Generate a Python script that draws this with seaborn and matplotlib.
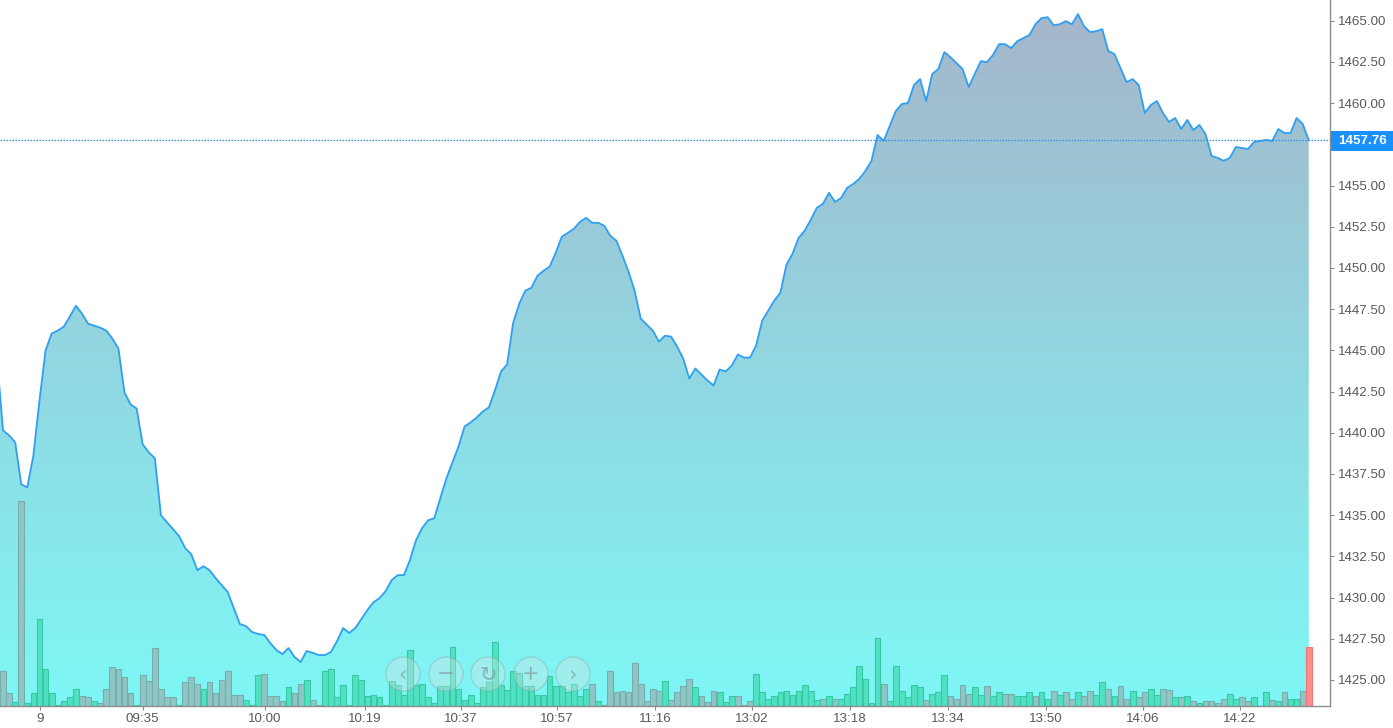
import numpy as np
import pandas as pd
import matplotlib
matplotlib.use("Agg")
import matplotlib.pyplot as plt
import seaborn as sns
from matplotlib.patches import Circle, Rectangle
from matplotlib.transforms import IdentityTransform, blended_transform_factory
from matplotlib.ticker import FormatStrFormatter
from matplotlib.colors import to_rgb

# ---------------- data ----------------
price = [
    1444.50, 1440.14, 1439.84, 1439.42, 1436.87, 1436.69, 1438.63, 1441.96, 1444.99, 1446.02,
    1446.20, 1446.44, 1447.05, 1447.71, 1447.23, 1446.62, 1446.50, 1446.38, 1446.20, 1445.71,
    1445.11, 1442.44, 1441.72, 1441.47, 1439.29, 1438.81, 1438.45, 1434.99, 1434.57, 1434.15,
    1433.72, 1433.00, 1432.63, 1431.66, 1431.90, 1431.66, 1431.18, 1430.75, 1430.33, 1429.36,
    1428.39, 1428.27, 1427.91, 1427.79, 1427.73, 1427.24, 1426.82, 1426.57, 1426.94, 1426.39,
    1426.09, 1426.76, 1426.64, 1426.51, 1426.51, 1426.70, 1427.36, 1428.15, 1427.85, 1428.15,
    1428.69, 1429.24, 1429.72, 1429.97, 1430.39, 1431.06, 1431.36, 1431.36, 1432.27, 1433.48,
    1434.21, 1434.69, 1434.81, 1436.02, 1437.23, 1438.20, 1439.17, 1440.38, 1440.63, 1440.93,
    1441.29, 1441.54, 1442.57, 1443.72, 1444.14, 1446.68, 1447.83, 1448.62, 1448.80, 1449.53,
    1449.83, 1450.08, 1450.92, 1451.89, 1452.13, 1452.38, 1452.80, 1453.04, 1452.74, 1452.74,
    1452.56, 1451.95, 1451.65, 1450.74, 1449.77, 1448.62, 1446.93, 1446.56, 1446.20, 1445.53,
    1445.89, 1445.83, 1445.23, 1444.50, 1443.29, 1443.90, 1443.53, 1443.17, 1442.87, 1443.84,
    1443.72, 1444.08, 1444.75, 1444.56, 1444.56, 1445.29, 1446.80, 1447.41, 1448.02, 1448.50,
    1450.20, 1450.86, 1451.83, 1452.26, 1452.92, 1453.65, 1453.89, 1454.56, 1454.01, 1454.25,
    1454.86, 1455.10, 1455.41, 1455.89, 1456.50, 1458.07, 1457.71, 1458.62, 1459.52, 1459.95,
    1460.01, 1461.10, 1461.46, 1460.13, 1461.77, 1462.07, 1463.10, 1462.79, 1462.43, 1462.07,
    1460.98, 1461.77, 1462.55, 1462.49, 1462.92, 1463.58, 1463.58, 1463.34, 1463.76, 1463.95,
    1464.13, 1464.79, 1465.16, 1465.22, 1464.73, 1464.79, 1464.98, 1464.79, 1465.40, 1464.67,
    1464.31, 1464.37, 1464.49, 1463.16, 1462.98, 1462.13, 1461.28, 1461.46, 1461.10, 1459.40,
    1459.89, 1460.13, 1459.40, 1458.86, 1459.10, 1458.43, 1458.98, 1458.37, 1458.68, 1458.13,
    1456.80, 1456.68, 1456.50, 1456.68, 1457.34, 1457.28, 1457.22, 1457.65, 1457.71, 1457.77,
    1457.71, 1458.43, 1458.19, 1458.19, 1459.10, 1458.74, 1457.76,
]

volume = [
    10, 35, 13, 4, 205, 3, 13, 87, 37, 13,
    1, 5, 9, 17, 10, 9, 5, 3, 17, 39,
    37, 29, 13, 1, 31, 25, 58, 17, 9, 9,
    1, 24, 29, 22, 17, 24, 13, 26, 35, 11,
    11, 6, 1, 31, 32, 10, 10, 5, 19, 13,
    22, 26, 6, 1, 35, 37, 9, 21, 1, 31,
    26, 10, 11, 9, 1, 25, 21, 11, 56, 21,
    22, 9, 3, 20, 20, 59, 17, 6, 11, 3,
    19, 24, 64, 21, 16, 35, 33, 20, 20, 11,
    11, 30, 20, 20, 14, 22, 10, 17, 22, 5,
    1, 35, 14, 15, 14, 43, 22, 5, 17, 15,
    25, 6, 14, 20, 27, 19, 10, 4, 15, 14,
    4, 10, 10, 1, 5, 32, 14, 7, 10, 14,
    15, 11, 15, 21, 15, 6, 7, 10, 7, 7,
    12, 19, 40, 27, 3, 68, 22, 5, 40, 15,
    9, 21, 19, 6, 12, 14, 31, 10, 7, 21,
    12, 19, 11, 20, 10, 14, 12, 12, 10, 10,
    14, 10, 14, 7, 15, 11, 14, 7, 14, 10,
    15, 11, 24, 17, 10, 20, 7, 15, 9, 14,
    17, 11, 17, 16, 9, 9, 10, 5, 3, 5,
    5, 3, 7, 12, 7, 9, 5, 9, 0, 14,
    6, 5, 14, 7, 7, 15, 59,
]

# u = up bar (green), d = down bar (grey), r = last bar (red)
dir_code = (
    "ddduduuuuu" "uuuudduddd" "dddudddddd" "uddduddddd" "duuuddddud"
    "dudduuuuuu" "uuuuuuuuuu" "uuuuuuuuuu" "uuuuuuuuuu" "uuuuuuuudu"
    "dddddddddd" "uddddudddu" "uuddduuuuu" "uuuuuududu" "uuuuuuduuu"
    "uuuduuuddd" "duuduudduu" "uduududdud" "duududdudd" "uuddududud"
    "ddduudduuu" "duduudr"
)

tick_pos = [7.1, 24.0, 44.1, 60.6, 76.4, 92.2, 108.4, 124.3, 140.5, 156.6, 172.7, 188.7, 204.7]
tick_labels = ["9", "09:35", "10:00", "10:19", "10:37", "10:57", "11:16",
               "13:02", "13:18", "13:34", "13:50", "14:06", "14:22"]
# 1457.50 is hidden behind the last-price label in the reference
y_ticks = [1425.0, 1427.5, 1430.0, 1432.5, 1435.0, 1437.5, 1440.0, 1442.5,
           1445.0, 1447.5, 1450.0, 1452.5, 1455.0, 1460.0, 1462.5, 1465.0]
last_price = 1457.76
nav_glyphs = ["\u2039", "\u2212", "\u21bb", "+", "\u203a"]

# ---------------- style ----------------
sns.set_style("white")
plt.rcParams["font.family"] = ["Liberation Sans", "DejaVu Sans"]

dir_names = {"u": "up", "d": "down", "r": "last"}
df = pd.DataFrame({
    "idx": np.arange(len(price)),
    "price": price,
    "volume": volume,
    "dir": [dir_names[c] for c in dir_code],
})

W, H = 1393, 728
fig = plt.figure(figsize=(W / 100, H / 100), dpi=100)
fig.patch.set_facecolor("white")
rect = [0, 22 / H, 1330 / W, 706 / H]
ax_fill = fig.add_axes(rect)
vax = fig.add_axes(rect, sharex=ax_fill)
ax = fig.add_axes(rect, sharex=ax_fill, sharey=ax_fill)
ax_fill.set_zorder(1)
vax.set_zorder(2)
ax.set_zorder(3)
vax.patch.set_visible(False)
ax.patch.set_visible(False)

xlo, xhi = 0.5, 219.5
ylo, yhi = 1423.42, 1466.26

# ---------------- gradient area ----------------
top_c = np.array([166, 181, 202]) / 255.0
bot_c = np.array([126, 247, 246]) / 255.0
t = np.linspace(0, 1, 256)[:, None]
grad = (top_c * (1 - t) + bot_c * t)[:, None, :]
poly = ax_fill.fill_between(df["idx"], df["price"], ylo, facecolor="none", edgecolor="none")
im = ax_fill.imshow(grad, extent=[xlo, xhi, ylo, yhi], aspect="auto", origin="upper",
                    interpolation="bilinear", zorder=1)
im.set_clip_path(poly.get_paths()[0], transform=ax_fill.transData)
ax_fill.axis("off")

# ---------------- volume bars ----------------
pal = {"up": "#50e0c2", "down": "#8ec6c6", "last": "#ff8f8f"}
edge = {"up": "#38c8a6", "down": "#78adad", "last": "#ff7070"}
sns.barplot(data=df, x="idx", y="volume", hue="dir", palette=pal, native_scale=True,
            dodge=False, width=0.95, saturation=1, legend=False, errorbar=None, ax=vax)
key_by_rgb = {tuple(np.round(to_rgb(v), 3)): k for k, v in pal.items()}
for p in vax.patches:
    k = key_by_rgb.get(tuple(np.round(p.get_facecolor()[:3], 3)))
    if k is not None:
        p.set_edgecolor(edge[k])
        p.set_linewidth(0.8)
vax.set_ylim(0, 706)
vax.axis("off")

# ---------------- price line ----------------
sns.lineplot(data=df, x="idx", y="price", ax=ax, color="#2f9ff2", linewidth=1.3)
ax.axhline(last_price, color="#2a8ff0", linestyle=(0, (1.2, 1.2)), linewidth=0.9)

ax.set_xlim(xlo, xhi)
ax.set_ylim(ylo, yhi)
ax.set_xlabel("")
ax.set_ylabel("")
ax.set_xticks(tick_pos)
ax.set_xticklabels(tick_labels)
ax.set_yticks(y_ticks)
ax.yaxis.set_major_formatter(FormatStrFormatter("%.2f"))
ax.yaxis.tick_right()
for s in ["top", "left"]:
    ax.spines[s].set_visible(False)
for s in ["right", "bottom"]:
    ax.spines[s].set_visible(True)
    ax.spines[s].set_color("#8c8c8c")
    ax.spines[s].set_linewidth(1.0)
ax.tick_params(axis="both", colors="#8c8c8c", labelcolor="#5a5a5a", labelsize=9.6,
               length=3, width=0.8, direction="out")
ax.tick_params(axis="y", right=True, labelright=True, left=False, labelleft=False, pad=3)
ax.tick_params(axis="x", bottom=True, labelbottom=True, pad=2)

# last price label
tr = blended_transform_factory(ax.transAxes, ax.transData)
ax.add_patch(Rectangle((1331 / 1330, last_price - 0.68), 0.06, 1.24, transform=tr,
                       facecolor="#1890ff", edgecolor="none", clip_on=False, zorder=10))
ax.text(1338 / 1330, last_price - 0.06, f"{last_price:.2f}", transform=tr, color="white",
        fontsize=9.6, fontweight="bold", va="center", ha="left", zorder=11, clip_on=False)

# navigation buttons
for cx, g in zip([403, 446, 488, 531, 573], nav_glyphs):
    fig.add_artist(Circle((cx, H - 674), 17, transform=IdentityTransform(),
                          facecolor=(0.86, 0.89, 0.89, 0.35),
                          edgecolor=(0.55, 0.62, 0.62, 0.35), lw=1.0, zorder=20))
    fig.text(cx / W, 1 - 674 / H, g, ha="center", va="center", fontsize=15,
             color=(0.48, 0.56, 0.56, 0.6), family="DejaVu Sans", zorder=21)

fig.savefig("out.png", dpi=100, facecolor="white")
